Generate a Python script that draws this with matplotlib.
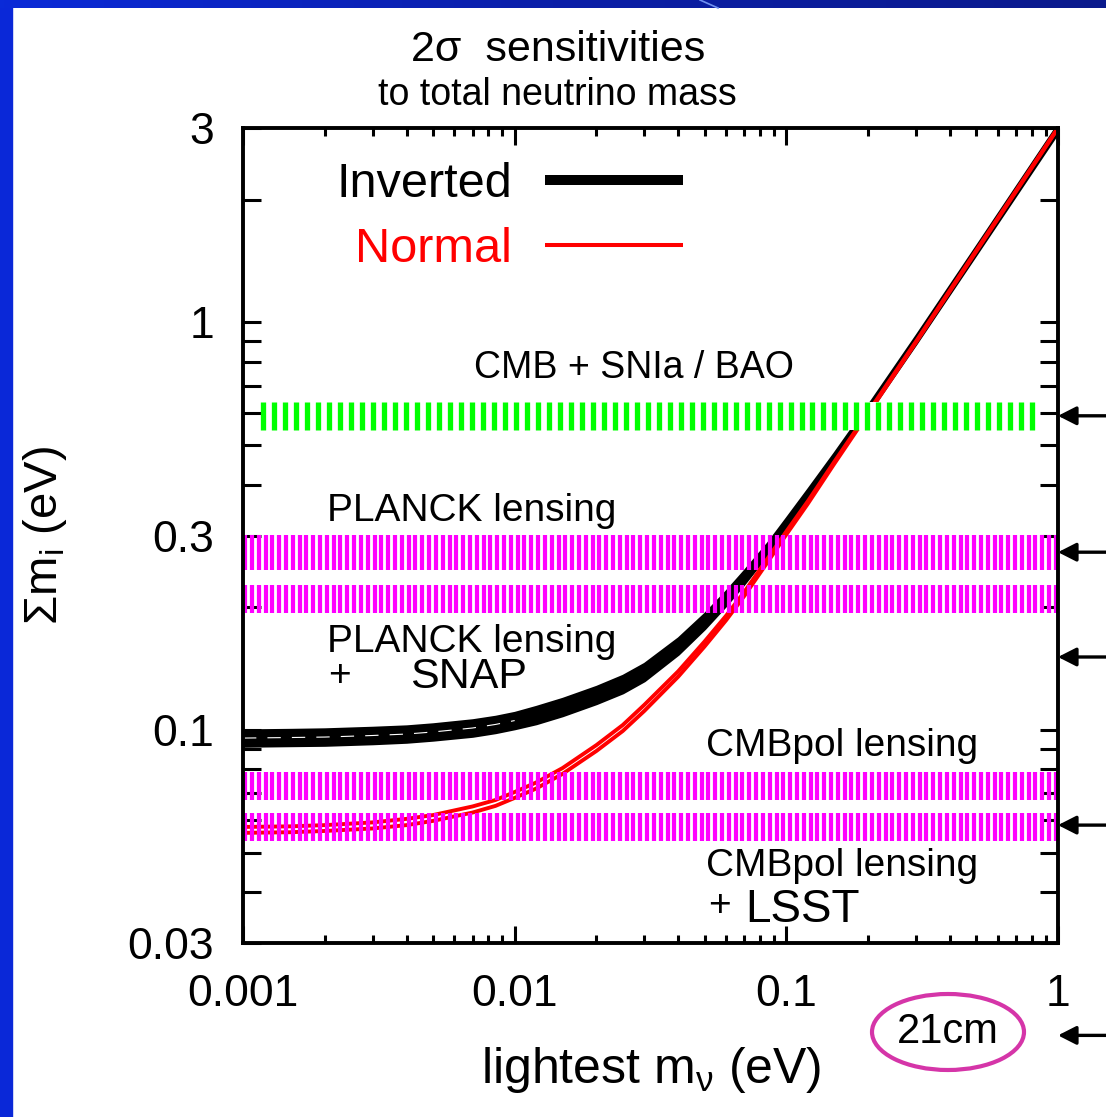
import numpy as np
import matplotlib; matplotlib.use("Agg")
import matplotlib.pyplot as plt
from matplotlib.patches import Ellipse, Rectangle
from matplotlib.lines import Line2D
from matplotlib.colors import LinearSegmentedColormap
from matplotlib.ticker import FixedLocator, FixedFormatter, LogLocator, NullFormatter

plt.rcParams['font.family'] = ['Liberation Sans', 'DejaVu Sans']
plt.rcParams['mathtext.fontset'] = 'custom'
plt.rcParams['mathtext.rm'] = 'Liberation Sans'
plt.rcParams['mathtext.it'] = 'Liberation Sans:italic'
plt.rcParams['mathtext.default'] = 'regular'

# lightest neutrino mass (eV) vs 2-sigma band of the summed mass (eV)
m_light = [0.001, 0.0015, 0.002, 0.003, 0.004, 0.005, 0.007, 0.0085, 0.01, 0.012, 0.015,
           0.02, 0.025, 0.03, 0.04, 0.05, 0.06, 0.07, 0.085, 0.1, 0.12, 0.15, 0.2, 0.3, 0.5, 1.0]
inv_hi = [0.0999, 0.1002, 0.1005, 0.1014, 0.1022, 0.1034, 0.1058, 0.1079, 0.1103, 0.1141, 0.1194,
          0.1278, 0.1360, 0.1455, 0.1681, 0.1930, 0.2192, 0.2462, 0.2868, 0.3313, 0.3902, 0.4783,
          0.6271, 0.9287, 1.540, 3.07]
inv_lo = [0.0913, 0.0916, 0.0918, 0.0926, 0.0934, 0.0945, 0.0966, 0.0986, 0.1008, 0.1037, 0.1085,
          0.1162, 0.1235, 0.1322, 0.1536, 0.1774, 0.2025, 0.2288, 0.2694, 0.3130, 0.3708, 0.4572,
          0.5994, 0.8878, 1.472, 2.93]
nor_hi = [0.0578, 0.0580, 0.0584, 0.0593, 0.0605, 0.0618, 0.0649, 0.0673, 0.0704, 0.0743, 0.0806,
          0.0918, 0.1028, 0.1152, 0.1393, 0.1648, 0.1906, 0.2180, 0.2624, 0.3069, 0.3641, 0.4546,
          0.6019, 0.8978, 1.502, 3.005]
nor_lo = [0.0559, 0.0561, 0.0565, 0.0573, 0.0584, 0.0598, 0.0627, 0.0651, 0.0681, 0.0718, 0.0780,
          0.0888, 0.0994, 0.1113, 0.1351, 0.1602, 0.1858, 0.2131, 0.2572, 0.3017, 0.3590, 0.4495,
          0.5969, 0.8928, 1.493, 2.995]

# survey sensitivities (eV)
band_names = ['CMB + SNIa / BAO', 'PLANCK lensing', 'PLANCK lensing + SNAP',
              'CMBpol lensing', 'CMBpol lensing + LSST']
band_lo = [0.544, 0.247, 0.1936, 0.0673, 0.0534]
band_hi = [0.638, 0.301, 0.2268, 0.0788, 0.0625]
band_x0 = [0.00116, 0.001, 0.001, 0.001, 0.001]
band_x1 = [0.822, 1.0, 1.0, 1.0, 1.0]
band_col = ['#00ff00', '#ff00ff', '#ff00ff', '#ff00ff', '#ff00ff']
arrow_y = [0.59, 0.273, 0.151, 0.0584, 0.0178]   # last one is the 21cm forecast

xticks = [0.001, 0.01, 0.1, 1]
xtick_labels = ['0.001', '0.01', '0.1', '1']
yticks = [0.03, 0.1, 0.3, 1, 3]
ytick_labels = ['0.03', '0.1', '0.3', '1', '3']

W, H = 1106, 1117
fig = plt.figure(figsize=(W / 100, H / 100), dpi=100)
ax = fig.add_axes([243 / W, 1 - 943 / H, 815 / W, 815 / H])
ax.set_xscale('log'); ax.set_yscale('log')
ax.set_xlim(0.001, 1); ax.set_ylim(0.03, 3)


def stripes(x0, x1, lo, hi, color, period, width, bg=False, z=3):
    """vertical-striped band, spacing given in pixels"""
    p0 = ax.transData.transform((x0, lo))[0]; p1 = ax.transData.transform((x1, lo))[0]
    n = int(round((p1 - p0 - width) / period)) + 1
    px = np.linspace(p0 + width / 2, p1 - width / 2, n)
    xs = ax.transData.inverted().transform(np.c_[px, np.full(n, 100.0)])[:, 0]
    if bg:
        ax.fill_between([x0, x1], lo, hi, color='white', lw=0, zorder=z - 0.1)
    ax.vlines(xs, lo, hi, colors=color, lw=width * 0.72, zorder=z, capstyle='butt')


# mass curves
ax.fill_between(m_light, inv_lo, inv_hi, color='black', lw=1.8, edgecolor='black', zorder=2)
mid = np.sqrt(np.array(inv_lo) * np.array(inv_hi))
ax.plot(m_light[:9], mid[:9], color='white', lw=0.8, dashes=(12, 10), zorder=2.1)
ax.plot(m_light, nor_hi, color='red', lw=2.8, zorder=2.5)
ax.plot(m_light, nor_lo, color='red', lw=2.8, zorder=2.5)

for i in range(len(band_lo)):
    green = i == 0
    stripes(band_x0[i], band_x1[i], band_lo[i], band_hi[i], band_col[i],
            11 if green else 6.8, 5.3 if green else 4.2, bg=green, z=4 if green else 3)

# ticks
ax.xaxis.set_major_locator(FixedLocator(xticks))
ax.xaxis.set_major_formatter(FixedFormatter(xtick_labels))
ax.xaxis.set_minor_locator(LogLocator(base=10, subs=np.arange(2, 10)))
ax.xaxis.set_minor_formatter(NullFormatter())
ax.yaxis.set_major_locator(FixedLocator(yticks))
ax.yaxis.set_major_formatter(FixedFormatter(ytick_labels))
ax.yaxis.set_minor_locator(LogLocator(base=10, subs=np.arange(2, 10)))
ax.yaxis.set_minor_formatter(NullFormatter())
ax.tick_params(which='both', direction='in', top=True, right=True, width=2.2, labelsize=32)
ax.tick_params(axis='x', which='major', length=12, pad=22)
ax.tick_params(axis='x', which='minor', length=6)
ax.tick_params(axis='y', which='both', length=13, pad=21)
for s in ax.spines.values():
    s.set_linewidth(2.8); s.set_zorder(5)

# legend drawn by hand (labels right-aligned to the line samples)
for lab, col, lw, ty, ly in [('Inverted', 'black', 7.2, 0.9153, 0.9362),
                             ('Normal', 'red', 2.9, 0.8356, 0.8564)]:
    ax.text(0.330, ty, lab, color=col, fontsize=35, ha='right', va='baseline',
            transform=ax.transAxes)
    ax.plot([0.3706, 0.5399], [ly, ly], color=col, lw=lw, solid_capstyle='butt',
            transform=ax.transAxes, zorder=6)

# band annotations
notes = [('CMB + SNIa / BAO', 0.2834, 0.6933, 27), ('PLANCK lensing', 0.1031, 0.5178, 28),
         ('PLANCK lensing', 0.1031, 0.3571, 28), ('+', 0.1043, 0.3153, 28),
         ('SNAP', 0.2049, 0.3129, 31), ('CMBpol lensing', 0.5681, 0.2294, 28),
         ('CMBpol lensing', 0.5681, 0.0822, 28), ('+', 0.5706, 0.0331, 28),
         ('LSST', 0.6160, 0.0258, 33)]
for t, x, y, fs in notes:
    ax.text(x, y, t, fontsize=fs, ha='left', va='baseline', transform=ax.transAxes, zorder=6)

# arrows on the right edge
for yv in arrow_y:
    ax.annotate('', xy=(1.0, yv), xytext=(1.07, yv), xycoords=('axes fraction', 'data'),
                annotation_clip=False,
                arrowprops=dict(arrowstyle='-|>,head_length=0.55,head_width=0.28',
                                mutation_scale=20, lw=2.4, color='black', shrinkA=0, shrinkB=0))

# 21cm marker
fig.add_artist(Ellipse((948 / W, 1 - 1032 / H), 152 / W, 76 / H, transform=fig.transFigure,
                       fill=False, ec='#d535a8', lw=3))
fig.text(948 / W, 1 - 1032 / H, '21cm', fontsize=30, ha='center', va='center')

# titles and axis labels
fig.text(558 / W, 1 - 61 / H, '2\u03c3  sensitivities', fontsize=31, ha='center', va='baseline')
fig.text(557 / W, 1 - 105 / H, 'to total neutrino mass', fontsize=27, ha='center', va='baseline')
fig.text(651 / W, 1 - 1083 / H, r'lightest m$_{\nu}$ (eV)', fontsize=36, ha='center', va='baseline')
fig.text(45 / W, 1 - 535 / H, r'$\Sigma$m$_{i}$ (eV)', fontsize=34, ha='center', va='center',
         rotation=90)

# slide frame
fig.add_artist(Rectangle((0, 0), 12 / W, 1, transform=fig.transFigure, color='#0a28d8', zorder=0))
bax = fig.add_axes([0, 1 - 8 / H, 1, 8 / H])
bax.imshow(np.linspace(0, 1, 256)[None, :], aspect='auto',
           cmap=LinearSegmentedColormap.from_list('frame', ['#0a2ad8', '#0b1fa8', '#0a1a8c']))
bax.axis('off')
fig.add_artist(Line2D([700 / W, 718 / W], [1, 1 - 8 / H], color='#7090f0', lw=1.2))

fig.savefig('out.png', dpi=100)
